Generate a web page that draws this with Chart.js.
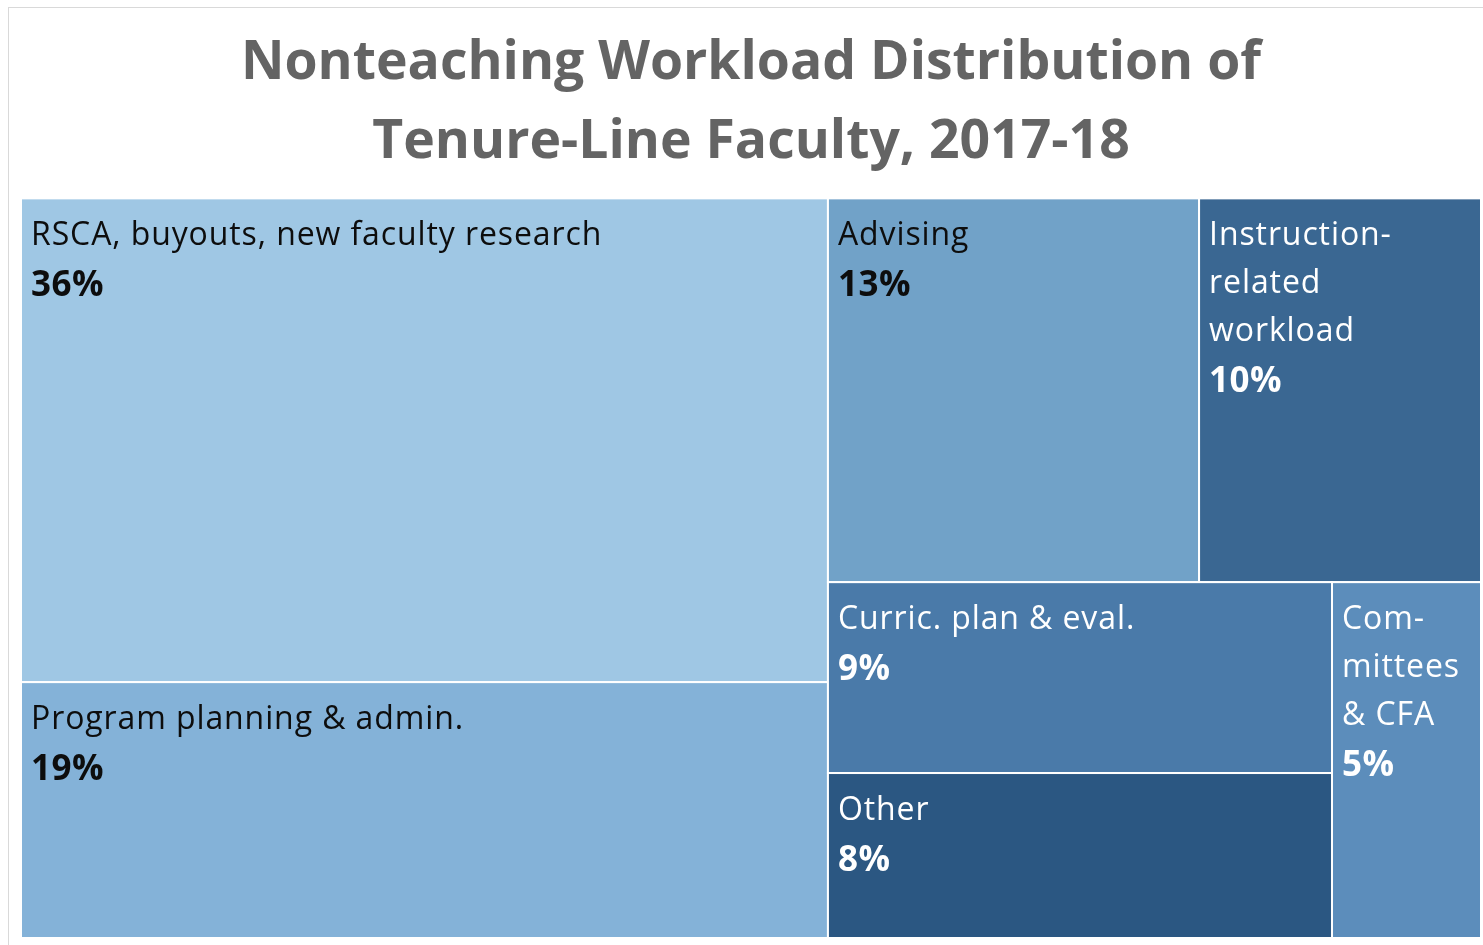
<!DOCTYPE html>
<html>
<head>
<meta charset="utf-8">
<script src="https://cdn.jsdelivr.net/npm/chart.js@4.4.0/dist/chart.umd.min.js"></script>
<style>
  html, body { margin: 0; padding: 0; background: #fff; }
  #frame { position: absolute; left: 8px; top: 7px; width: 1500px; height: 1000px; border: 1px solid #d9d9d9; box-sizing: border-box; }
  #wrap { position: absolute; left: 0; top: 0; width: 1483px; height: 945px; }
</style>
</head>
<body>
<div id="frame"></div>
<div id="wrap"><canvas id="treemap"></canvas></div>
<script>
// Data (share of nonteaching workload, %)
const categories = ['RSCA, buyouts, new faculty research', 'Program planning & admin.', 'Advising',
    'Instruction-related workload', 'Curric. plan & eval.', 'Other', 'Committees & CFA'];
const shares = [36.15, 19.12, 13.19, 10.02, 8.91, 7.70, 4.91];
// how each label wraps in its box
const labelLines = [
    ['RSCA, buyouts, new faculty research'],
    ['Program planning & admin.'],
    ['Advising'],
    ['Instruction-', 'related', 'workload'],
    ['Curric. plan & eval.'],
    ['Other'],
    ['Com-', 'mittees', '& CFA']
];
const fillColors = ['#9fc7e4', '#84b2d8', '#71a2c8', '#3a6792', '#4a7aa9', '#2b5782', '#5c8dbb'];
const textColors = ['#0d0d0d', '#0d0d0d', '#0d0d0d', '#ffffff', '#ffffff', '#ffffff', '#ffffff'];

// nesting of the boxes: 'h' splits side by side, 'v' stacks; leaves are indexes into shares
const layoutTree = ['h', [['v', [0, 1]], ['v', [['h', [2, 3]], ['h', [['v', [4, 5]], 6]]]]]];

function nodeSum(node) {
    if (typeof node === 'number') return shares[node];
    return node[1].reduce((s, k) => s + nodeSum(k), 0);
}

function place(node, x0, y0, x1, y1, out) {
    if (typeof node === 'number') {
        out[node] = { x0, y0, x1, y1 };
        return;
    }
    const dir = node[0];
    const total = nodeSum(node);
    let pos = dir === 'h' ? x0 : y0;
    node[1].forEach(k => {
        const len = (dir === 'h' ? (x1 - x0) : (y1 - y0)) * nodeSum(k) / total;
        if (dir === 'h') place(k, pos, y0, pos + len, y1, out);
        else place(k, x0, pos, x1, pos + len, out);
        pos += len;
    });
}

const boxes = [];
place(layoutTree, 0, 0, 100, 100, boxes);

const treemapPlugin = {
    id: 'treemapBoxes',
    afterDatasetsDraw(chart) {
        const ctx = chart.ctx;
        const xs = chart.scales.x, ys = chart.scales.y;
        ctx.save();
        boxes.forEach((b, i) => {
            const left = xs.getPixelForValue(b.x0), right = xs.getPixelForValue(b.x1);
            const top = ys.getPixelForValue(b.y0), bottom = ys.getPixelForValue(b.y1);
            ctx.fillStyle = fillColors[i];
            ctx.fillRect(left, top, right - left, bottom - top);
            ctx.strokeStyle = '#ffffff';
            ctx.lineWidth = 2;
            ctx.strokeRect(left, top, right - left, bottom - top);

            ctx.fillStyle = textColors[i];
            ctx.textAlign = 'left';
            ctx.textBaseline = 'alphabetic';
            ctx.font = '32px "Open Sans"';
            ctx.letterSpacing = '0.9px';
            let y = top + 47;
            labelLines[i].forEach((line, j) => {
                if (j > 0) y += 48;
                ctx.fillText(line, left + 10, y);
            });
            ctx.font = 'bold 35px "Open Sans"';
            ctx.letterSpacing = '0.5px';
            ctx.fillText(Math.round(shares[i]) + '%', left + 10, y + 51);
        });
        ctx.restore();
    }
};

new Chart(document.getElementById('treemap'), {
    type: 'scatter',
    data: { datasets: [{ data: [] }] },
    options: {
        responsive: true,
        maintainAspectRatio: false,
        animation: false,
        layout: { padding: { left: 21, right: 2, top: 0, bottom: 7 } },
        scales: {
            x: { type: 'linear', min: 0, max: 100, display: false },
            y: { type: 'linear', min: 0, max: 100, reverse: true, display: false }
        },
        plugins: {
            legend: { display: false },
            tooltip: { enabled: false },
            title: {
                display: true,
                text: ['Nonteaching Workload Distribution of', 'Tenure-Line Faculty, 2017-18'],
                color: '#646464',
                font: { family: '"Open Sans"', size: 53.5, weight: 'bold', lineHeight: 1.48 },
                padding: { top: 24, bottom: 16 }
            }
        }
    },
    plugins: [treemapPlugin]
});
</script>
</body>
</html>
